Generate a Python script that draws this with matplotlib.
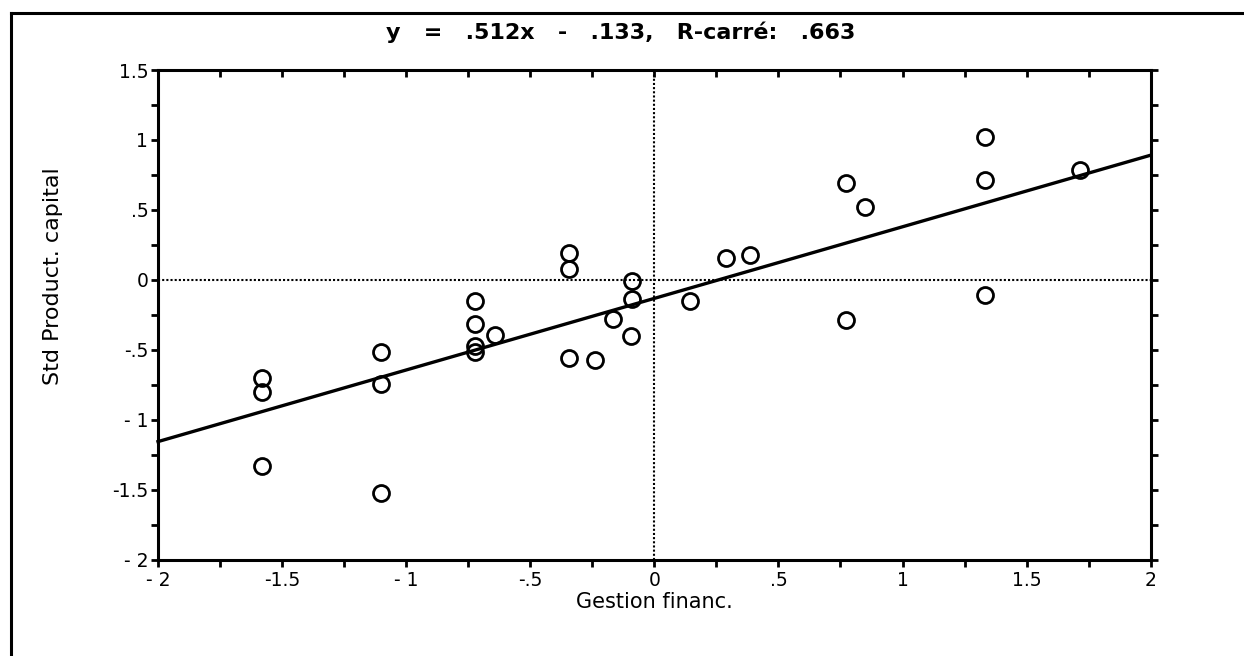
import matplotlib
matplotlib.use("Agg")
import matplotlib.pyplot as plt
import numpy as np
from matplotlib.lines import Line2D
from matplotlib.ticker import MultipleLocator, FixedLocator

plt.rcParams["font.family"] = ["DejaVu Sans"]

# data (Gestion financ. vs Std Product. capital)
gestion = [-1.581, -1.581, -1.581, -1.10, -1.10, -1.10,
           -0.721, -0.721, -0.721, -0.721, -0.641,
           -0.342, -0.342, -0.342, -0.238, -0.165,
           -0.09, -0.09, -0.094, 0.145, 0.29, 0.387,
           0.772, 0.772, 0.85, 1.334, 1.334, 1.334, 1.716]
product = [-0.70, -0.805, -1.334, -0.514, -0.743, -1.521,
           -0.15, -0.314, -0.471, -0.514, -0.393,
           0.193, 0.079, -0.557, -0.571, -0.279,
           -0.007, -0.134, -0.40, -0.15, 0.157, 0.179,
           0.695, -0.286, 0.521, 1.021, 0.714, -0.107, 0.786]
slope = 0.512
intercept = -0.133
r_squared = 0.663

x_ticks = [-2, -1.5, -1, -0.5, 0, 0.5, 1, 1.5, 2]
x_labels = ["- 2", "-1.5", "- 1", "-.5", "0", ".5", "1", "1.5", "2"]
y_ticks = [-2, -1.5, -1, -0.5, 0, 0.5, 1, 1.5]
y_labels = ["- 2", "-1.5", "- 1", "-.5", "0", ".5", "1", "1.5"]

W, H = 1244, 656
fig = plt.figure(figsize=(W / 100, H / 100), dpi=100)
ax = fig.add_axes([158 / W, 1 - 559.5 / H, (1150.7 - 158) / W, (559.5 - 70) / H])

# outer frame (only left and top edges show in the scan)
fig.add_artist(Line2D([11 / W, 11 / W], [0, 1 - 13 / H], color="black", lw=2.2,
                      transform=fig.transFigure))
fig.add_artist(Line2D([11 / W, 1], [1 - 13 / H, 1 - 13 / H], color="black", lw=2.2,
                      transform=fig.transFigure))

ax.axhline(0, color="black", lw=1.5, ls=(0, (1, 1)), zorder=1)
ax.axvline(0, color="black", lw=1.5, ls=(0, (1, 1)), zorder=1)

xs = np.array([-2.0, 2.0])
ax.plot(xs, slope * xs + intercept, color="black", lw=2.4, zorder=2, clip_on=False)
ax.plot(gestion, product, "o", ms=11.5, mfc="none", mec="black", mew=2.0, zorder=3)

ax.set_xlim(-2, 2)
ax.set_ylim(-2, 1.5)
for s in ax.spines.values():
    s.set_linewidth(2.2)

ax.xaxis.set_major_locator(FixedLocator(x_ticks))
ax.set_xticklabels(x_labels)
ax.yaxis.set_major_locator(FixedLocator(y_ticks))
ax.set_yticklabels(y_labels)
ax.xaxis.set_minor_locator(MultipleLocator(0.25))
ax.yaxis.set_minor_locator(MultipleLocator(0.25))
ax.tick_params(axis="both", which="both", direction="out", length=5, width=2,
               labelsize=13.5, top=True, right=True)
ax.tick_params(axis="x", which="both", pad=3, labeltop=False)
ax.tick_params(axis="y", which="both", pad=2)
# top ticks point inward
for t in ax.xaxis.get_major_ticks() + ax.xaxis.get_minor_ticks():
    t.tick2line.set_marker(3)

fig.text(654 / W, 1 - 592 / H, "Gestion financ.", ha="center", va="top", fontsize=15)
fig.text(53 / W, 1 - 276 / H, "Std Product. capital", ha="center", va="center",
         rotation=90, fontsize=16)
title = f"y   =   {slope:.3f}x   -   {abs(intercept):.3f},   R-carré:   {r_squared:.3f}"
fig.text(621 / W, 1 - 32 / H, title.replace("0.", "."),
         ha="center", va="center", fontsize=16, fontweight="bold")

fig.savefig("out.png", dpi=100, facecolor="white")
